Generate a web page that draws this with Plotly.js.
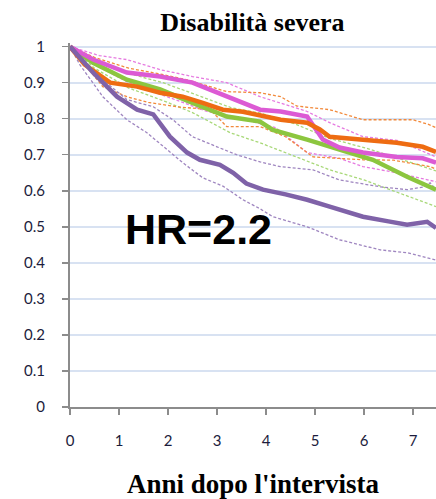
<!DOCTYPE html>
<html><head><meta charset="utf-8">
<script src="https://cdn.plot.ly/plotly-3.0.1.min.js"></script>
<style>html,body{margin:0;padding:0;background:#fff}</style>
</head><body><div id="chart" style="width:436px;height:499px"></div>
<script>
// Purple group (HR=2.2)
const purpleT = [0,0.47,0.96,1.37,1.7,2.04,2.39,2.65,3.06,3.33,3.6,3.94,4.4,4.84,5.3,5.98,6.5,6.88,7.29,7.47];
const purpleV = [1,0.928,0.861,0.825,0.812,0.75,0.706,0.686,0.672,0.65,0.62,0.603,0.59,0.575,0.556,0.528,0.515,0.506,0.514,0.497];
const purpleHiT = [0,0.2,0.67,1.16,1.7,2.1,2.5,3.0,3.4,3.88,4.29,4.96,5.5,6.33,6.88,7.2,7.35,7.47];
const purpleHiV = [1,0.972,0.908,0.853,0.833,0.797,0.75,0.722,0.7,0.68,0.667,0.658,0.63,0.611,0.603,0.61,0.622,0.603];
const purpleLoT = [0,0.2,0.67,1.16,1.57,1.98,2.3,2.71,3.12,3.53,3.88,4.14,4.84,5.5,6.33,6.88,7.47];
const purpleLoV = [1,0.95,0.861,0.797,0.761,0.714,0.678,0.636,0.613,0.575,0.55,0.528,0.5,0.464,0.436,0.428,0.408];
// Orange group
const orangeT = [0,0.3,0.82,1.37,1.84,2.3,2.71,3.12,3.53,3.88,4.3,4.84,5.1,5.3,5.98,6.67,7.2,7.47];
const orangeV = [1,0.95,0.9,0.889,0.872,0.861,0.844,0.825,0.819,0.81,0.797,0.789,0.77,0.75,0.742,0.733,0.722,0.708];
const orangeHiT = [0,0.5,1.2,1.8,2.39,3.2,3.88,4.3,4.63,5.3,5.98,7.0,7.3,7.47];
const orangeHiV = [1,0.97,0.94,0.925,0.908,0.875,0.872,0.861,0.835,0.825,0.797,0.797,0.785,0.775];
const orangeLoT = [0,0.67,1.16,1.6,2.18,2.86,3.2,3.88,4.4,4.96,5.98,6.6,7.35,7.47];
const orangeLoV = [1,0.889,0.861,0.845,0.833,0.825,0.778,0.778,0.75,0.694,0.686,0.685,0.667,0.66];
// Magenta group
const magentaT = [0,0.47,1.16,1.84,2.5,3.2,3.88,4.3,4.84,5.16,5.5,5.98,6.67,7.2,7.47];
const magentaV = [1,0.964,0.928,0.917,0.9,0.861,0.825,0.82,0.806,0.742,0.72,0.706,0.694,0.69,0.678];
const magentaHiT = [0,0.6,1.16,1.84,2.5,3.2,3.88,4.3,4.84,5.3,5.98,6.67,7.47];
const magentaHiV = [1,0.975,0.964,0.936,0.917,0.9,0.861,0.844,0.82,0.789,0.75,0.74,0.694];
const magentaLoT = [0,0.5,1.2,2.0,2.8,3.5,4.2,4.84,5.5,5.98,6.67,7.47];
const magentaLoV = [1,0.95,0.9,0.86,0.82,0.8,0.775,0.706,0.69,0.667,0.65,0.625];
// Green group
const greenT = [0,0.47,1.16,1.84,2.5,3.2,3.88,4.14,4.84,5.5,6.18,6.88,7.2,7.47];
const greenV = [1,0.955,0.908,0.881,0.844,0.806,0.792,0.769,0.742,0.714,0.686,0.639,0.62,0.603];
const greenHiT = [0,0.5,1.2,1.9,2.6,3.3,3.9,4.6,5.3,6.0,6.7,7.47];
const greenHiV = [1,0.965,0.925,0.9,0.865,0.83,0.815,0.785,0.745,0.72,0.69,0.655];
const greenLoT = [0,0.5,1.2,1.9,2.5,3.27,3.88,4.5,5.3,6.0,6.6,7.47];
const greenLoV = [1,0.94,0.885,0.85,0.817,0.761,0.733,0.7,0.658,0.63,0.6,0.556];

const xTicks = [0,1,2,3,4,5,6,7];
const yTicks = [0,0.1,0.2,0.3,0.4,0.5,0.6,0.7,0.8,0.9,1];
const yTickText = ['0','0.1','0.2','0.3','0.4','0.5','0.6','0.7','0.8','0.9','1'];

function dash(x,y,c){return {x:x,y:y,mode:'lines',line:{color:c,width:1.3,dash:'3px,2px'},hoverinfo:'skip'};}
function solid(x,y,c){return {x:x,y:y,mode:'lines',line:{color:c,width:4.5},hoverinfo:'skip'};}

const data = [
  dash(greenHiT,greenHiV,'#a8d878'), dash(greenLoT,greenLoV,'#a8d878'),
  dash(magentaHiT,magentaHiV,'#e67ae0'), dash(magentaLoT,magentaLoV,'#e67ae0'),
  dash(orangeHiT,orangeHiV,'#f28a3c'), dash(orangeLoT,orangeLoV,'#f28a3c'),
  dash(purpleHiT,purpleHiV,'#9f86c0'), dash(purpleLoT,purpleLoV,'#9f86c0'),
  solid(greenT,greenV,'#8cc63f'),
  solid(magentaT,magentaV,'#dc5ad4'),
  solid(orangeT,orangeV,'#ee6c12'),
  solid(purpleT,purpleV,'#7f62a8')
];

const layout = {
  width:436, height:499,
  margin:{l:70,r:0,t:43,b:92},
  showlegend:false,
  paper_bgcolor:'#fff', plot_bgcolor:'#fff',
  title:{text:'<b>Disabilità severa</b>', font:{family:'Liberation Serif, Times New Roman, serif', size:26, color:'#000'}, x:0.579, xanchor:'center', y:0.956, yanchor:'middle'},
  xaxis:{range:[0,7.47], tickvals:xTicks, ticktext:xTicks.map(String), showgrid:false, zeroline:false, automargin:false,
    showline:true, linecolor:'#8c8c8c', linewidth:2, ticks:'outside', ticklen:6, tickcolor:'#8c8c8c', tickwidth:1.5,
    ticklabelstandoff:13,
    tickfont:{family:'Lato, Carlito, sans-serif', size:15, color:'#1c1c3c'},
    title:{text:'<b>Anni dopo l\'intervista</b>', font:{family:'Liberation Serif, Times New Roman, serif', size:27, color:'#000'}, standoff:27}},
  yaxis:{range:[0,1.01], tickvals:yTicks, ticktext:yTickText, showgrid:true, gridcolor:'#d8e2f2', gridwidth:2, zeroline:false, automargin:false,
    showline:true, linecolor:'#8c8c8c', linewidth:2, ticks:'outside', ticklen:6, tickcolor:'#8c8c8c', tickwidth:1.5,
    ticklabelstandoff:14,
    tickfont:{family:'Lato, Carlito, sans-serif', size:15, color:'#1c1c3c'}},
  annotations:[{x:2.62, y:0.494, xref:'x', yref:'y', text:'<b>HR=2.2</b>', showarrow:false, xanchor:'center', yanchor:'middle',
    font:{family:'Liberation Sans, Arial, sans-serif', size:43, color:'#000'}}]
};
Plotly.newPlot('chart', data, layout, {displayModeBar:false, staticPlot:true});
</script></body></html>
